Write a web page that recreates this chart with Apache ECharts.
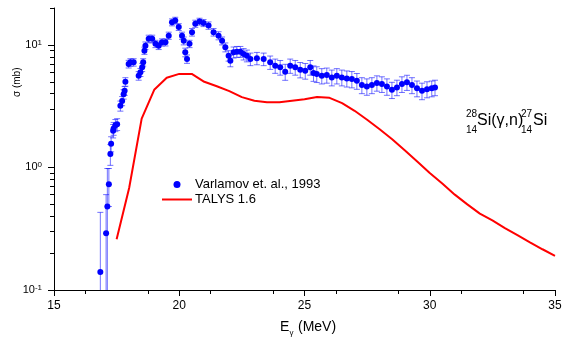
<!DOCTYPE html>
<html><head><meta charset="utf-8">
<script src="https://cdn.jsdelivr.net/npm/echarts@6/dist/echarts.min.js"></script>
<style>html,body{margin:0;padding:0;background:#fff}#c{width:567px;height:345px}</style>
</head><body><div id="c"></div>
<script>
const energy = [16.85,17.08,17.13,17.19,17.25,17.28,17.36,17.38,17.45,17.52,17.65,17.72,17.78,17.82,17.85,17.98,18.05,18.18,18.38,18.45,18.52,18.56,18.61,18.65,18.78,18.92,19.05,19.18,19.31,19.45,19.58,19.71,19.84,19.98,20.11,20.18,20.24,20.31,20.41,20.51,20.64,20.81,20.97,21.17,21.37,21.57,21.71,21.84,21.97,22.04,22.17,22.30,22.44,22.57,22.70,22.84,23.10,23.37,23.63,23.83,24.03,24.23,24.43,24.63,24.83,25.03,25.23,25.36,25.49,25.69,25.89,26.09,26.29,26.49,26.69,26.89,27.09,27.29,27.49,27.69,27.89,28.09,28.29,28.49,28.69,28.89,29.09,29.29,29.49,29.69,29.89,30.08,30.21];
const sigma = [0.14,0.29,0.48,0.73,1.29,1.56,1.99,2.08,2.21,2.25,3.18,3.49,3.96,4.22,5.0,6.98,7.21,7.21,5.6,5.97,6.56,7.21,8.97,9.86,11.2,11.2,10.2,9.86,10.5,10.5,11.9,15.3,15.8,14.0,11.9,10.8,8.7,7.67,10.2,12.7,14.9,15.5,15.1,14.4,12.7,11.9,10.8,9.57,8.17,7.43,8.71,8.81,8.81,8.43,8.17,7.67,7.78,7.67,7.21,6.76,6.56,6.04,6.76,6.56,6.28,6.15,6.56,5.89,5.78,5.60,5.67,5.43,5.60,5.43,5.33,5.26,5.09,4.70,4.58,4.70,4.89,4.79,4.58,4.30,4.50,4.79,4.95,4.70,4.42,4.22,4.35,4.42,4.50];
const sigmaErr = [0.29,0.31,0.50,0.25,0.25,0.22,0.25,0.25,0.25,0.25,0.3,0.3,0.35,0.35,0.4,0.5,0.5,0.5,0.45,0.45,0.5,0.5,0.6,0.7,0.8,0.8,0.7,0.7,0.7,0.7,0.8,1.0,1.0,0.9,0.8,0.8,0.7,0.6,0.7,0.9,1.0,1.0,1.0,1.0,0.9,0.9,0.8,0.8,0.8,0.8,0.9,0.9,0.9,0.9,0.9,0.9,0.9,0.9,0.9,0.9,0.9,0.9,0.9,0.9,0.9,0.9,0.9,0.85,0.85,0.8,0.8,0.8,0.8,0.8,0.8,0.8,0.75,0.7,0.7,0.7,0.7,0.7,0.7,0.65,0.65,0.7,0.7,0.7,0.65,0.65,0.65,0.65,0.65];
const talysE = [17.5,18.0,18.5,19.0,19.5,20.0,20.5,21.0,21.5,22.0,22.5,23.0,23.5,24.0,24.5,25.0,25.5,26.0,26.5,27.0,27.5,28.0,28.5,29.0,29.5,30.0,30.5,31.0,31.5,32.0,32.5,33.0,33.5,34.0,34.5,35.0];
const talysS = [0.26,0.68,2.5,4.3,5.4,5.8,5.8,5.0,4.6,4.2,3.75,3.5,3.4,3.4,3.5,3.6,3.75,3.7,3.35,2.9,2.45,2.05,1.7,1.38,1.12,0.9,0.74,0.6,0.5,0.42,0.37,0.32,0.28,0.245,0.215,0.19];
const xLabelTicks = [15,20,25,30,35];
const yMajorTicks = [0.1,1,10];
const yMinorTicks = [0.2,0.3,0.4,0.5,0.6,0.7,0.8,0.9,2,3,4,5,6,7,8,9,20];
const seriesNames = ['Varlamov et. al., 1993','TALYS 1.6'];

const FONT = 'Liberation Sans, Arial, sans-serif';
const chart = echarts.init(document.getElementById('c'), null, {renderer:'canvas'});
const pts = energy.map((e,i)=>[e, sigma[i]]);
const errData = energy.map((e,i)=>[e, sigma[i], sigmaErr[i]]);
const talys = talysE.map((e,i)=>[e, talysS[i]]);

const yBase = {type:'log', logBase:10, min:0.1, max:20, position:'left'};

chart.setOption({
  animation:false,
  grid: {left:54, right:12, top:8, bottom:55},
  legend: {
    orient:'vertical', left:161, top:178, padding:0, itemWidth:30, itemHeight:7, itemGap:2,
    textStyle:{fontFamily:FONT, fontSize:13, color:'#000', padding:[0,0,0,-2]},
    data:[{name:seriesNames[0], icon:'circle'}, {name:seriesNames[1], itemStyle:{opacity:0}}]
  },
  xAxis: {
    type:'value', min:15, max:35, interval:2.5,
    axisLine:{lineStyle:{color:'#000', width:1}},
    axisTick:{length:6, lineStyle:{color:'#000'}, customValues:xLabelTicks},
    minorTick:{show:true, splitNumber:2, length:4, lineStyle:{color:'#000'}},
    splitLine:{show:false},
    axisLabel:{fontFamily:FONT, fontSize:12, color:'#000', margin:10, customValues:xLabelTicks}
  },
  yAxis: [
    Object.assign({}, yBase, {
      axisLine:{show:true, lineStyle:{color:'#000'}},
      axisTick:{show:true, length:6, lineStyle:{color:'#000'}, customValues:yMajorTicks},
      splitLine:{show:false},
      axisLabel:{customValues:yMajorTicks, margin:12,
        formatter:function(v){const e=Math.round(Math.log10(v));return '{b|10}{s|'+e+'}';},
        rich:{b:{fontFamily:FONT,fontSize:11,color:'#000',lineHeight:13},
              s:{fontFamily:FONT,fontSize:8,color:'#000',verticalAlign:'top',lineHeight:8}}}
    }),
    Object.assign({}, yBase, {
      axisLine:{show:false},
      axisTick:{show:true, length:4, lineStyle:{color:'#000'}, customValues:yMinorTicks},
      splitLine:{show:false},
      axisLabel:{show:false}
    })
  ],
  series: [
    {
      name:'errbars', type:'custom', data:errData, clip:true, z:1,
      renderItem:function(params, api){
        const x = api.value(0), y = api.value(1), e = api.value(2);
        const top = api.coord([x, y+e]);
        const lowV = y-e;
        const bot = lowV > 0 ? api.coord([x, lowV]) : [top[0], 400];
        const hw = 3;
        const children = [
          {type:'line', shape:{x1:top[0],y1:top[1],x2:bot[0],y2:bot[1]}},
          {type:'line', shape:{x1:top[0]-hw,y1:top[1],x2:top[0]+hw,y2:top[1]}}
        ];
        if (lowV > 0) children.push({type:'line', shape:{x1:bot[0]-hw,y1:bot[1],x2:bot[0]+hw,y2:bot[1]}});
        return {type:'group', children:children.map(c=>Object.assign(c,{style:{stroke:'rgba(20,20,255,0.6)', lineWidth:1}}))};
      }
    },
    {
      name:seriesNames[0], type:'scatter', data:pts, symbol:'circle', symbolSize:6, z:3,
      itemStyle:{color:'#0000ff', opacity:1}
    },
    {
      name:seriesNames[1], type:'line', data:talys, symbol:'none', z:2,
      lineStyle:{color:'#ff0000', width:2}, itemStyle:{color:'#ff0000'}
    }
  ],
  graphic: [
    {type:'text', x:22, y:97, rotation:Math.PI/2, style:{text:'σ (mb)', font:'10px '+FONT, fill:'#000', textAlign:'left', verticalAlign:'bottom'}},
    {type:'text', x:280, y:327, style:{text:'E', font:'14px '+FONT, fill:'#000', verticalAlign:'middle'}},
    {type:'text', x:289.5, y:333, style:{text:'γ', font:'8px '+FONT, fill:'#000', verticalAlign:'middle'}},
    {type:'text', x:298, y:327, style:{text:'(MeV)', font:'14px '+FONT, fill:'#000', verticalAlign:'middle'}},
    {type:'text', x:466, y:114, style:{text:'28', font:'10px '+FONT, fill:'#000', verticalAlign:'middle'}},
    {type:'text', x:466, y:130, style:{text:'14', font:'10px '+FONT, fill:'#000', verticalAlign:'middle'}},
    {type:'text', x:477, y:121, style:{text:'Si(γ,n)', font:'16px '+FONT, fill:'#000', verticalAlign:'middle'}},
    {type:'text', x:521, y:114, style:{text:'27', font:'10px '+FONT, fill:'#000', verticalAlign:'middle'}},
    {type:'text', x:521, y:130, style:{text:'14', font:'10px '+FONT, fill:'#000', verticalAlign:'middle'}},
    {type:'text', x:533, y:121, style:{text:'Si', font:'16px '+FONT, fill:'#000', verticalAlign:'middle'}}
  ]
});
</script></body></html>
